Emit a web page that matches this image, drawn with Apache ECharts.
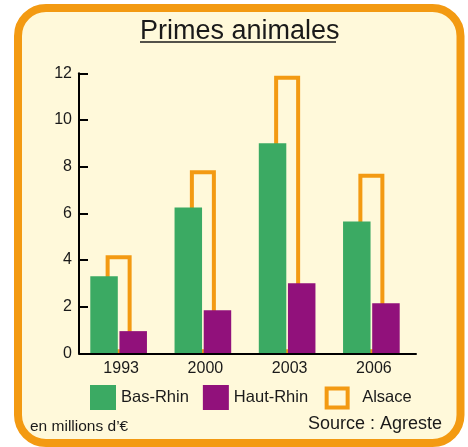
<!DOCTYPE html>
<html>
<head>
<meta charset="utf-8">
<script src="https://cdn.jsdelivr.net/npm/echarts@6/dist/echarts.min.js"></script>
<style>
  html, body { margin: 0; padding: 0; background: #fff; }
  #chart { width: 468px; height: 447px; }
</style>
</head>
<body>
<div id="chart"></div>
<script>
// values, millions of euros
const years = ['1993', '2000', '2003', '2006'];
const basRhin = [3.3, 6.25, 9.0, 5.65];
const hautRhin = [0.95, 1.85, 3.0, 2.15];
const alsace = [4.2, 7.85, 11.9, 7.7];
const yTicks = { min: 0, max: 12, step: 2 };

const orange = '#f39a12';
const green = '#3baa63';
const purple = '#91117b';
const ink = '#1a1a1a';
const font = 'Liberation Sans, Arial, sans-serif';

const chart = echarts.init(document.getElementById('chart'));

// grid 0 carries the visible axes, grid 1 the bars (sits 2.5px to the left, as in the original)
chart.setOption({
    animation: false,
    textStyle: { fontFamily: font },
    graphic: [
        {
            type: 'rect', z: -100,
            shape: { x: 18, y: 8, width: 442.5, height: 435, r: 28 },
            style: { fill: '#fff9da', stroke: orange, lineWidth: 8 }
        },
        {
            type: 'text', left: 140, top: 18.5,
            style: { text: 'Primes animales', fontSize: 27, fill: ink, fontFamily: font }
        },
        {
            type: 'line',
            shape: { x1: 140, y1: 42, x2: 336, y2: 42 },
            style: { stroke: ink, lineWidth: 1.5 }
        },
        {
            type: 'text', left: 30, top: 419,
            style: { text: 'en millions d\u2019\u20ac', fontSize: 15.5, fill: ink, fontFamily: font }
        },
        {
            type: 'text', right: 26, top: 415,
            style: { text: 'Source : Agreste', fontSize: 18, fill: ink, fontFamily: font }
        }
    ],
    legend: {
        left: 90, top: 383, padding: 0,
        icon: 'rect',
        itemWidth: 26, itemHeight: 25, itemGap: 14,
        textStyle: { fontSize: 16.5, color: ink, fontFamily: font },
        data: [
            { name: 'Bas-Rhin' },
            { name: 'Haut-Rhin' },
            {
                name: 'Alsace',
                icon: 'path://M0,0L0,0M26,25L26,25M2.5,3.5H23.5V22.5H2.5Z',
                itemStyle: { color: 'transparent', borderColor: orange, borderWidth: 4 },
                textStyle: { padding: [0, 0, 0, 7] }
            }
        ]
    },
    grid: [
        { left: 79, right: 52, top: 73.3, bottom: 93.7, containLabel: false },
        { left: 76.5, right: 54.5, top: 73.3, bottom: 93.7, containLabel: false }
    ],
    xAxis: [
        {
            type: 'category', data: years, gridIndex: 0, z: 10,
            axisLine: { lineStyle: { color: '#000', width: 2 } },
            axisTick: { inside: true, length: 7, lineStyle: { color: '#000', width: 2 } },
            axisLabel: { fontSize: 16, color: ink, fontFamily: font, margin: 7 }
        },
        { type: 'category', data: years, gridIndex: 1, show: false },
        { type: 'category', data: years, gridIndex: 1, show: false }
    ],
    yAxis: [
        {
            type: 'value', gridIndex: 0, z: 10,
            min: yTicks.min, max: yTicks.max, interval: yTicks.step,
            splitLine: { show: false },
            axisLine: { show: true, lineStyle: { color: '#000', width: 2 } },
            axisTick: { show: true, inside: true, length: 9, lineStyle: { color: '#000', width: 2 } },
            axisLabel: { fontSize: 16, color: ink, fontFamily: font, margin: 7 }
        },
        {
            type: 'value', gridIndex: 1, show: false,
            min: yTicks.min, max: yTicks.max, interval: yTicks.step,
            splitLine: { show: false }
        }
    ],
    series: [
        {
            name: 'Alsace', type: 'bar', xAxisIndex: 2, yAxisIndex: 1, z: 1,
            barWidth: 26,
            itemStyle: { color: 'transparent', borderColor: orange, borderWidth: 4 },
            data: alsace
        },
        {
            name: 'Bas-Rhin', type: 'bar', xAxisIndex: 1, yAxisIndex: 1, z: 3,
            barWidth: 27.5, barGap: '6%',
            itemStyle: { color: green },
            data: basRhin
        },
        {
            name: 'Haut-Rhin', type: 'bar', xAxisIndex: 1, yAxisIndex: 1, z: 3,
            barWidth: 27.5, barGap: '6%',
            itemStyle: { color: purple },
            data: hautRhin
        }
    ]
});
</script>
</body>
</html>
